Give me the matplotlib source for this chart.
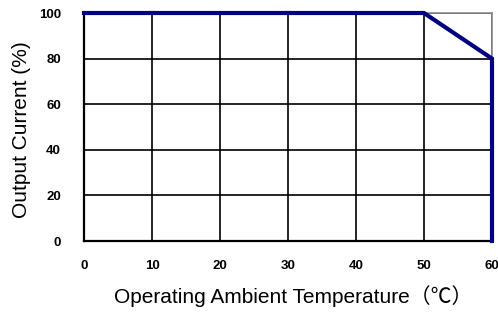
import matplotlib
matplotlib.use("Agg")
import matplotlib.pyplot as plt

temps = [0, 50, 60, 60]
current = [100, 100, 80, 0]
xticks = [0, 10, 20, 30, 40, 50, 60]
yticks = [0, 20, 40, 60, 80, 100]

fig = plt.figure(figsize=(4.98, 3.13), dpi=100)
ax = fig.add_axes([84/498, 1-241/313, 408/498, 228/313])
ax.set_xlim(0, 60)
ax.set_ylim(0, 100)
ax.set_xticks(xticks)
ax.set_yticks(yticks)
ax.grid(True, color='black', linewidth=1.2)
ax.set_axisbelow(True)
ax.tick_params(length=0)
ax.tick_params(axis='x', pad=13.5)
ax.tick_params(axis='y', pad=16.5)
for lbl in ax.get_xticklabels() + ax.get_yticklabels():
    lbl.set_fontfamily('Liberation Sans')
    lbl.set_fontweight('bold')
    lbl.set_fontsize(9.5)
for s in ['left', 'bottom']:
    ax.spines[s].set_color('black')
    ax.spines[s].set_linewidth(1.6)
for s in ['top', 'right']:
    ax.spines[s].set_color('#8c8c8c')
    ax.spines[s].set_linewidth(1.2)

ax.plot(temps, current, color='#000080', linewidth=3, clip_on=False,
        solid_joinstyle='miter', zorder=5)

fam = ['Liberation Sans', 'Noto Sans CJK JP']
ax.set_xlabel('Operating Ambient Temperature（℃）', family=fam, fontsize=15)
ax.set_ylabel('Output Current (%)', family=fam, fontsize=15)
ax.xaxis.set_label_coords(0.512, -0.243)
ax.xaxis.label.set_va('center')
ax.yaxis.set_label_coords(-0.152, 0.487)
ax.yaxis.label.set_va('center')

fig.savefig('out.png', dpi=100)
